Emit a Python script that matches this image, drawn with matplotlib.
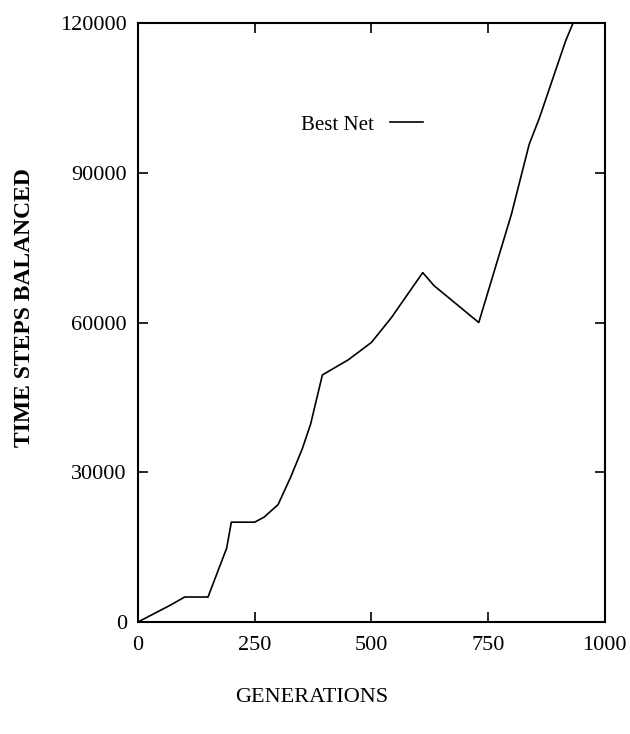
import matplotlib
matplotlib.use("Agg")
from matplotlib import pyplot as plt

# best net performance per generation
generations = [0, 68, 100, 150, 190, 200, 250, 270, 300, 327, 352, 370,
               395, 450, 500, 543, 610, 634, 730, 800, 838, 860, 916, 932]
steps = [0, 3300, 5000, 5000, 14800, 20000, 20000, 21000, 23500, 29000,
         34700, 39700, 49500, 52500, 56000, 61000, 70000, 67400, 60000,
         81700, 95700, 101000, 116400, 120000]

x_ticks = [0, 250, 500, 750, 1000]
y_ticks = [0, 30000, 60000, 90000, 120000]

plt.rcParams['font.family'] = ['Liberation Serif', 'DejaVu Serif']

fig = plt.figure(figsize=(6.3, 7.34), dpi=100)
ax = fig.add_axes([0.219, 0.1526, 0.741, 0.816])

ax.plot(generations, steps, color='black', linewidth=1.2, label='Best Net')

ax.set_xlim(0, 1000)
ax.set_ylim(0, 120000)
ax.set_xticks(x_ticks)
ax.set_yticks(y_ticks)
ax.tick_params(direction='in', length=7, width=1.2, top=True, right=True,
               labelsize=16)
ax.tick_params(axis='x', pad=10)
ax.tick_params(axis='y', pad=8)
for s in ax.spines.values():
    s.set_linewidth(1.5)

ax.set_xlabel('GENERATIONS', fontsize=16)
ax.xaxis.set_label_coords(0.373, -0.11)
ax.set_ylabel('TIME STEPS BALANCED', fontsize=17, fontweight='bold')
ax.yaxis.set_label_coords(-0.22, 0.525)

ax.legend(loc='center', bbox_to_anchor=(0.48, 0.83), frameon=False,
          markerfirst=False, fontsize=15, handlelength=1.6,
          handletextpad=0.8)

plt.savefig('out.png', dpi=100)
